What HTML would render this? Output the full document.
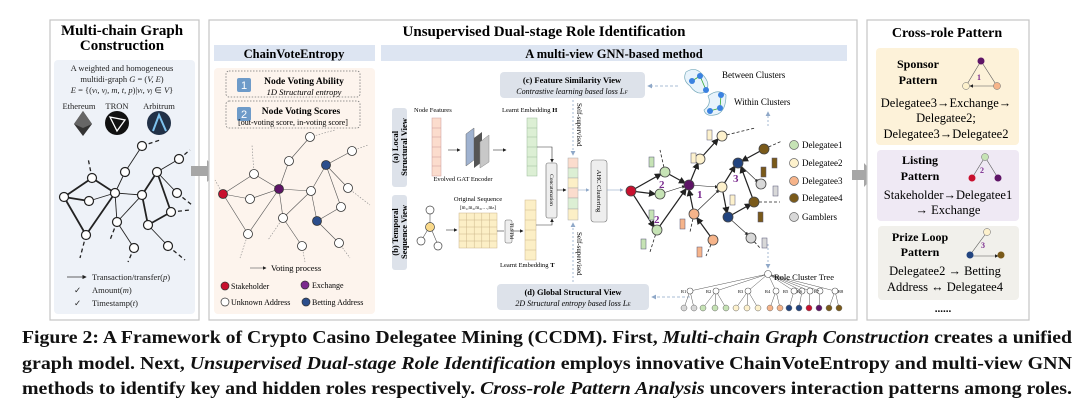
<!DOCTYPE html>
<html><head><meta charset="utf-8"><style>
html,body{margin:0;padding:0;background:#fff;}
svg{display:block;font-family:"Liberation Serif",serif;}
</style></head><body>
<svg width="1080" height="400" viewBox="0 0 1080 400" xmlns="http://www.w3.org/2000/svg">
<defs>
<marker id="ar" markerWidth="6" markerHeight="6" refX="5" refY="3" orient="auto"><path d="M0,0 L6,3 L0,6 z" fill="#222"/></marker>
<marker id="ag" markerWidth="6" markerHeight="6" refX="5" refY="3" orient="auto"><path d="M0,0 L6,3 L0,6 z" fill="#8fa8c8"/></marker>
</defs>
<rect width="1080" height="400" fill="#fff"/>

<!-- LEFT PANEL -->
<rect x="50" y="20" width="149" height="300" fill="#fff" stroke="#c4c4c4" stroke-width="1.2"/>
<text x="122" y="35" font-size="15" font-weight="bold" text-anchor="middle">Multi-chain Graph</text>
<text x="122" y="50" font-size="15" font-weight="bold" text-anchor="middle">Construction</text>
<rect x="54" y="60" width="141" height="254" rx="4" fill="#eef2f8"/>
<g font-size="8.5" text-anchor="middle" fill="#222">
<text x="122" y="71">A weighted and homogeneous</text>
<text x="122" y="82">multidi-graph <tspan font-style="italic">G</tspan> = (<tspan font-style="italic">V, E</tspan>)</text>
<text x="122" y="93"><tspan font-style="italic">E</tspan> = {(<tspan font-style="italic">v<tspan font-size="6">i</tspan>, v<tspan font-size="6">j</tspan>, m, t, p</tspan>)|<tspan font-style="italic">v<tspan font-size="6">i</tspan>, v<tspan font-size="6">j</tspan></tspan> ∈ <tspan font-style="italic">V</tspan>}</text>
<text x="79" y="109">Ethereum</text><text x="117" y="109">TRON</text><text x="159" y="109">Arbitrum</text>
</g>
<polygon points="83,111 92,124 83,136 74,124" fill="#333"/><polygon points="83,111 92,124 83,128 74,124" fill="#666"/>
<circle cx="117" cy="123" r="12" fill="#111"/><polygon points="110,117 125,120 117,131" fill="none" stroke="#fff" stroke-width="1.3"/>
<circle cx="159" cy="123" r="12" fill="#213147"/><path d="M153,131 L159,115 L166,131" fill="none" stroke="#7ec3ef" stroke-width="2"/>
<g stroke="#222" stroke-width="1.8" fill="none">
<line x1="64" y1="197" x2="92" y2="178"/><line x1="64" y1="197" x2="89" y2="201"/><line x1="64" y1="197" x2="86" y2="235"/>
<line x1="92" y1="178" x2="115" y2="193"/><line x1="89" y1="201" x2="115" y2="193" stroke-width="0.9"/><line x1="86" y1="235" x2="115" y2="193"/>
<line x1="115" y1="193" x2="125" y2="172" stroke-width="0.9"/><line x1="125" y1="172" x2="142" y2="146" stroke-width="0.9"/>
<line x1="115" y1="193" x2="142" y2="195" stroke-width="0.9"/><line x1="117" y1="222" x2="115" y2="193" stroke-width="0.9"/><line x1="117" y1="222" x2="142" y2="195" stroke-width="0.9"/>
<line x1="142" y1="195" x2="157" y2="172"/><line x1="157" y1="172" x2="171" y2="212"/><line x1="148" y1="225" x2="171" y2="212"/><line x1="142" y1="195" x2="148" y2="225"/>
<line x1="157" y1="172" x2="179" y2="159" stroke-width="0.9"/><line x1="157" y1="172" x2="177" y2="193" stroke-width="0.9"/>
<line x1="117" y1="222" x2="134" y2="248" stroke-width="0.9"/><line x1="148" y1="225" x2="168" y2="246" stroke-width="0.9"/>
</g>
<g stroke="#222" stroke-width="1.3" stroke-dasharray="4,3" fill="none">
<line x1="92" y1="178" x2="88" y2="158"/><line x1="86" y1="235" x2="80" y2="258"/><line x1="142" y1="146" x2="160" y2="140"/><line x1="179" y1="159" x2="190" y2="150"/><line x1="171" y1="212" x2="190" y2="210"/><line x1="177" y1="193" x2="192" y2="205"/><line x1="168" y1="246" x2="185" y2="260"/><line x1="134" y1="248" x2="128" y2="262"/><line x1="117" y1="222" x2="110" y2="240"/>
</g>
<g fill="#fff" stroke="#222" stroke-width="1.2">
<circle cx="64" cy="197" r="4.5"/><circle cx="89" cy="201" r="4.5"/><circle cx="92" cy="178" r="4.5"/><circle cx="115" cy="193" r="4.5"/><circle cx="125" cy="172" r="4.5"/><circle cx="142" cy="146" r="4.5"/><circle cx="157" cy="172" r="4.5"/><circle cx="179" cy="159" r="4.5"/><circle cx="142" cy="195" r="4.5"/><circle cx="117" cy="222" r="4.5"/><circle cx="148" cy="225" r="4.5"/><circle cx="171" cy="212" r="4.5"/><circle cx="177" cy="193" r="4.5"/><circle cx="86" cy="235" r="4.5"/><circle cx="134" cy="248" r="4.5"/><circle cx="168" cy="246" r="4.5"/>
</g>
<line x1="67" y1="277" x2="86" y2="277" stroke="#333" stroke-width="0.7" marker-end="url(#ar)"/>
<g font-size="8.5" fill="#222">
<text x="92" y="280">Transaction/transfer(<tspan font-style="italic">p</tspan>)</text>
<text x="74" y="293">✓</text><text x="92" y="293">Amount(<tspan font-style="italic">m</tspan>)</text>
<text x="74" y="306">✓</text><text x="92" y="306">Timestamp(<tspan font-style="italic">t</tspan>)</text>
</g>

<polygon points="191,166 207,166 207,160 218,171 207,182 207,176 191,176" fill="#a6a6a6"/>

<!-- MIDDLE PANEL -->
<rect x="209" y="20" width="648" height="300" fill="#fff" stroke="#c4c4c4" stroke-width="1.2"/>
<text x="544" y="36" font-size="15" font-weight="bold" text-anchor="middle">Unsupervised Dual-stage Role Identification</text>
<rect x="214" y="45" width="161" height="16" fill="#dde5f2"/>
<text x="294" y="58" font-size="12.5" font-weight="bold" text-anchor="middle">ChainVoteEntropy</text>
<rect x="381" y="45" width="466" height="16" fill="#dde5f2"/>
<text x="614" y="58" font-size="12.5" font-weight="bold" text-anchor="middle">A multi-view GNN-based method</text>

<rect x="214" y="68" width="161" height="246" rx="4" fill="#fdf4ed"/>
<rect x="226" y="71" width="134" height="26" rx="3" fill="none" stroke="#777" stroke-dasharray="1.5,1.5" stroke-width="0.8"/>
<rect x="226" y="101" width="134" height="27" rx="3" fill="none" stroke="#777" stroke-dasharray="1.5,1.5" stroke-width="0.8"/>
<rect x="237" y="78" width="14" height="14" rx="2" fill="#6e9bc9"/><text x="244" y="89" font-size="11" fill="#fff" text-anchor="middle" font-family="Liberation Sans,sans-serif">1</text>
<rect x="237" y="107" width="14" height="14" rx="2" fill="#6e9bc9"/><text x="244" y="118" font-size="11" fill="#fff" text-anchor="middle" font-family="Liberation Sans,sans-serif">2</text>
<text x="304" y="84" font-size="9.5" font-weight="bold" text-anchor="middle">Node Voting Ability</text>
<text x="304" y="95" font-size="8.5" font-style="italic" text-anchor="middle">1D Structural entropy</text>
<text x="301" y="114" font-size="9.5" font-weight="bold" text-anchor="middle">Node Voting Scores</text>
<text x="293" y="125" font-size="8" text-anchor="middle">[out-voting score, in-voting score]</text>
<g stroke="#555" stroke-width="0.6" fill="none">
<line x1="223" y1="194" x2="254" y2="174"/><line x1="223" y1="194" x2="250" y2="199"/><line x1="223" y1="194" x2="248" y2="234"/><line x1="254" y1="174" x2="279" y2="189"/><line x1="250" y1="199" x2="279" y2="189"/><line x1="248" y1="234" x2="279" y2="189"/><line x1="279" y1="189" x2="289" y2="161"/><line x1="289" y1="161" x2="310" y2="137"/><line x1="279" y1="189" x2="311" y2="191"/><line x1="279" y1="189" x2="283" y2="218"/><line x1="283" y1="218" x2="302" y2="246"/><line x1="283" y1="218" x2="311" y2="191"/><line x1="311" y1="191" x2="326" y2="165"/><line x1="326" y1="165" x2="352" y2="151"/><line x1="326" y1="165" x2="341" y2="207"/><line x1="311" y1="191" x2="317" y2="221"/><line x1="317" y1="221" x2="341" y2="207"/><line x1="317" y1="221" x2="339" y2="243"/><line x1="326" y1="165" x2="348" y2="188"/>
</g>
<g stroke="#888" stroke-width="0.6" stroke-dasharray="1.5,1.5" fill="none">
<line x1="310" y1="137" x2="335" y2="130"/><line x1="352" y1="151" x2="368" y2="145"/><line x1="254" y1="174" x2="252" y2="145"/><line x1="223" y1="194" x2="215" y2="180"/><line x1="248" y1="234" x2="240" y2="258"/><line x1="302" y1="246" x2="305" y2="262"/><line x1="339" y1="243" x2="350" y2="258"/><line x1="348" y1="188" x2="370" y2="205"/><line x1="283" y1="218" x2="268" y2="240"/>
</g>
<g stroke="#333" stroke-width="0.8">
<circle cx="223" cy="194" r="4.5" fill="#c8102e"/><circle cx="279" cy="189" r="4.5" fill="#5e1466"/><circle cx="326" cy="165" r="4.5" fill="#2c4e8c"/><circle cx="317" cy="221" r="4.5" fill="#2c4e8c"/>
<g fill="#fff"><circle cx="254" cy="174" r="4.5"/><circle cx="250" cy="199" r="4.5"/><circle cx="289" cy="161" r="4.5"/><circle cx="310" cy="137" r="4.5"/><circle cx="311" cy="191" r="4.5"/><circle cx="283" cy="218" r="4.5"/><circle cx="248" cy="234" r="4.5"/><circle cx="302" cy="246" r="4.5"/><circle cx="352" cy="151" r="4.5"/><circle cx="348" cy="188" r="4.5"/><circle cx="341" cy="207" r="4.5"/><circle cx="339" cy="243" r="4.5"/></g>
</g>
<line x1="250" y1="268" x2="266" y2="268" stroke="#555" stroke-width="0.6" marker-end="url(#ar)"/>
<text x="271" y="271" font-size="8.5">Voting process</text>
<g font-size="8" stroke="#333" stroke-width="0.7">
<circle cx="225" cy="286" r="4" fill="#c8102e"/><circle cx="305" cy="285" r="4" fill="#7b2a8e"/><circle cx="225" cy="302" r="4" fill="#fff"/><circle cx="306" cy="302" r="4" fill="#2c4e8c"/>
</g>
<g font-size="8">
<text x="231" y="289">Stakeholder</text><text x="312" y="288">Exchange</text><text x="231" y="305">Unknown Address</text><text x="312" y="305">Betting Address</text>
</g>

<rect x="392" y="108" width="15" height="79" rx="3" fill="#dde2ea"/>
<text transform="translate(403,147) rotate(-90)" font-size="8.5" font-weight="bold" text-anchor="middle"><tspan x="0" dy="-5">(a) Local</tspan><tspan x="0" dy="9">Structural View</tspan></text>
<rect x="392" y="195" width="15" height="75" rx="3" fill="#dde2ea"/>
<text transform="translate(403,232) rotate(-90)" font-size="8.5" font-weight="bold" text-anchor="middle"><tspan x="0" dy="-5">(b) Temporal</tspan><tspan x="0" dy="9">Sequence View</tspan></text>
<text x="414" y="112" font-size="6.5">Node Features</text>
<g stroke="#c99" stroke-width="0.5" fill="#fbdccd"><rect x="432" y="118" width="9" height="58"/><line x1="432" y1="128" x2="441" y2="128"/><line x1="432" y1="137" x2="441" y2="137"/><line x1="432" y1="147" x2="441" y2="147"/><line x1="432" y1="157" x2="441" y2="157"/><line x1="432" y1="166" x2="441" y2="166"/></g>
<line x1="448" y1="150" x2="460" y2="150" stroke="#333" stroke-width="0.6" marker-end="url(#ar)"/>
<polygon points="466,134 474,128 474,160 466,166" fill="#9fb2d0" stroke="#666" stroke-width="0.5"/>
<polygon points="474,138 482,132 482,162 474,168" fill="#555"/>
<polygon points="480,142 489,135 489,162 480,168" fill="#c8c8c8" stroke="#888" stroke-width="0.5"/>
<text x="463" y="181" font-size="6.5" text-anchor="middle">Evolved GAT Encoder</text>
<line x1="493" y1="150" x2="506" y2="150" stroke="#333" stroke-width="0.6" marker-end="url(#ar)"/>
<text x="502" y="112" font-size="6.5">Learnt Embedding <tspan font-weight="bold">H</tspan></text>
<g stroke="#9b9" stroke-width="0.5" fill="#dcefd4"><rect x="527" y="118" width="10" height="58"/><line x1="527" y1="128" x2="537" y2="128"/><line x1="527" y1="137" x2="537" y2="137"/><line x1="527" y1="147" x2="537" y2="147"/><line x1="527" y1="157" x2="537" y2="157"/><line x1="527" y1="166" x2="537" y2="166"/></g>
<polyline points="537,147 552,147 552,162" fill="none" stroke="#333" stroke-width="0.6" marker-end="url(#ar)"/>
<g stroke="#555" stroke-width="0.6"><line x1="430" y1="226" x2="430" y2="210"/><line x1="430" y1="226" x2="421" y2="241"/><line x1="430" y1="226" x2="438" y2="245"/></g>
<circle cx="430" cy="210" r="4" fill="#fff" stroke="#444" stroke-width="0.7"/><circle cx="430" cy="227" r="4.5" fill="#f9d98a" stroke="#444" stroke-width="0.7"/><circle cx="421" cy="241" r="4" fill="#fff" stroke="#444" stroke-width="0.7"/><circle cx="438" cy="246" r="4" fill="#fff" stroke="#444" stroke-width="0.7"/>
<line x1="446" y1="230" x2="457" y2="230" stroke="#333" stroke-width="0.6" marker-end="url(#ar)"/>
<text x="478" y="201" font-size="6.5" text-anchor="middle">Original Sequence</text>
<text x="478" y="209" font-size="5" text-anchor="middle">[m₁,m₂,m₃,…,mₙ]</text>
<g stroke="#cbb68a" stroke-width="0.5" fill="#fcefc6"><rect x="459" y="213" width="38" height="35"/>
<line x1="466.6" y1="213" x2="466.6" y2="248"/><line x1="474.2" y1="213" x2="474.2" y2="248"/><line x1="481.8" y1="213" x2="481.8" y2="248"/><line x1="489.4" y1="213" x2="489.4" y2="248"/>
<line x1="459" y1="220" x2="497" y2="220"/><line x1="459" y1="227" x2="497" y2="227"/><line x1="459" y1="234" x2="497" y2="234"/><line x1="459" y1="241" x2="497" y2="241"/></g>
<line x1="497" y1="231" x2="504" y2="231" stroke="#333" stroke-width="0.6"/>
<rect x="505" y="220" width="7" height="23" rx="1.5" fill="#eee" stroke="#666" stroke-width="0.5"/>
<text transform="translate(510,231) rotate(90)" font-size="5" text-anchor="middle">TLSTM</text>
<line x1="512" y1="231" x2="523" y2="231" stroke="#333" stroke-width="0.6" marker-end="url(#ar)"/>
<g stroke="#cbb68a" stroke-width="0.5" fill="#fcefc6"><rect x="525" y="200" width="11" height="60"/><line x1="525" y1="210" x2="536" y2="210"/><line x1="525" y1="220" x2="536" y2="220"/><line x1="525" y1="230" x2="536" y2="230"/><line x1="525" y1="240" x2="536" y2="240"/><line x1="525" y1="250" x2="536" y2="250"/></g>
<polyline points="536,225 552,225 552,219" fill="none" stroke="#333" stroke-width="0.6" marker-end="url(#ar)"/>
<text x="500" y="267" font-size="6.5">Learnt Embedding <tspan font-weight="bold">T</tspan></text>
<rect x="546" y="163" width="11" height="55" rx="2" fill="#eee" stroke="#666" stroke-width="0.6"/>
<text transform="translate(550,190) rotate(90)" font-size="5.5" text-anchor="middle">Concatenation</text>
<line x1="557" y1="190" x2="566" y2="190" stroke="#333" stroke-width="0.6" marker-end="url(#ar)"/>
<g stroke="#aaa" stroke-width="0.5"><rect x="568" y="158" width="10" height="10" fill="#fbdccd"/><rect x="568" y="168" width="10" height="10" fill="#dcefd4"/><rect x="568" y="178" width="10" height="10" fill="#fcefc6"/><rect x="568" y="188" width="10" height="10" fill="#fbdccd"/><rect x="568" y="198" width="10" height="11" fill="#dcefd4"/><rect x="568" y="209" width="10" height="11" fill="#fcefc6"/></g>
<line x1="578" y1="190" x2="589" y2="190" stroke="#8fa8c8" stroke-width="0.6" marker-end="url(#ag)"/>
<rect x="591" y="160" width="16" height="62" rx="3" fill="#eee" stroke="#777" stroke-width="0.6"/>
<text transform="translate(597,191) rotate(90)" font-size="6.5" text-anchor="middle">AHC Clustering</text>
<line x1="607" y1="190" x2="623" y2="190" stroke="#8fa8c8" stroke-width="0.6" marker-end="url(#ag)"/>
<line x1="573" y1="100" x2="573" y2="155" stroke="#8fa8c8" stroke-width="0.8" stroke-dasharray="2,2" marker-end="url(#ag)"/>
<line x1="573" y1="282" x2="573" y2="223" stroke="#8fa8c8" stroke-width="0.8" stroke-dasharray="2,2" marker-end="url(#ag)"/>
<text transform="translate(577,103) rotate(90)" font-size="7">Self-supervised</text>
<text transform="translate(577,232) rotate(90)" font-size="7">Self-supervised</text>
<rect x="500" y="72" width="145" height="26" rx="4" fill="#dde2ea"/>
<text x="572" y="83" font-size="8.5" font-weight="bold" text-anchor="middle">(c) Feature Similarity View</text>
<text x="572" y="94" font-size="8" font-style="italic" text-anchor="middle">Contrastive learning based loss L<tspan font-size="5.5">F</tspan></text>
<rect x="497" y="284" width="152" height="26" rx="4" fill="#dde2ea"/>
<text x="573" y="295" font-size="8.5" font-weight="bold" text-anchor="middle">(d) Global Structural View</text>
<text x="573" y="306" font-size="8" font-style="italic" text-anchor="middle">2D Structural entropy based loss L<tspan font-size="5.5">E</tspan></text>
<line x1="678" y1="86" x2="648" y2="86" stroke="#8fa8c8" stroke-width="0.8" stroke-dasharray="3,2" marker-end="url(#ag)"/>
<line x1="690" y1="297" x2="652" y2="297" stroke="#8fa8c8" stroke-width="0.8" stroke-dasharray="3,2" marker-end="url(#ag)"/>
<line x1="768" y1="126" x2="768" y2="112" stroke="#8fa8c8" stroke-width="0.8" stroke-dasharray="2,2" marker-end="url(#ag)"/>
<line x1="768" y1="244" x2="768" y2="268" stroke="#8fa8c8" stroke-width="0.8" stroke-dasharray="2,2" marker-end="url(#ag)"/>
<path d="M686,72 Q695,66 702,74 Q712,84 705,92 Q697,96 690,86 Q682,80 686,72z" fill="#e8f3fb" stroke="#7ab" stroke-width="0.7"/>
<path d="M708,96 Q718,88 726,95 Q726,110 718,114 Q706,118 704,110 Q712,104 708,96z" fill="#e8f3fb" stroke="#7ab" stroke-width="0.7"/>
<g stroke="#3a3" stroke-width="0.8"><line x1="692" y1="81" x2="700" y2="76"/><line x1="700" y1="76" x2="706" y2="90"/><line x1="710" y1="111" x2="720" y2="108"/><line x1="720" y1="108" x2="721" y2="95"/></g>
<g fill="#3b82e0"><circle cx="692" cy="81" r="3"/><circle cx="700" cy="76" r="3"/><circle cx="706" cy="90" r="3"/><circle cx="721" cy="95" r="3"/><circle cx="720" cy="108" r="3"/><circle cx="710" cy="111" r="3"/></g>
<text x="722" y="78" font-size="9">Between Clusters</text>
<text x="734" y="105" font-size="9">Within Clusters</text>
<g stroke="#222" stroke-width="1.2" fill="none" marker-end="url(#ar)">
<line x1="631" y1="191" x2="661" y2="174"/><line x1="631" y1="191" x2="655" y2="194"/><line x1="631" y1="191" x2="654" y2="227"/>
<line x1="665" y1="172" x2="685" y2="183"/><line x1="660" y1="194" x2="685" y2="186" stroke-width="0.6"/><line x1="657" y1="230" x2="686" y2="189"/>
<line x1="689" y1="185" x2="698" y2="163"/><line x1="700" y1="159" x2="718" y2="139"/>
<line x1="694" y1="214" x2="689" y2="190" /><line x1="713" y1="240" x2="697" y2="218"/><line x1="694" y1="214" x2="719" y2="190" stroke-width="0.6"/>
<line x1="689" y1="185" x2="718" y2="187" stroke-width="0.6"/><line x1="722" y1="187" x2="735" y2="166"/><line x1="722" y1="187" x2="727" y2="213"/>
<line x1="728" y1="217" x2="751" y2="204"/><line x1="754" y1="202" x2="741" y2="167"/><line x1="764" y1="149" x2="742" y2="161"/>
<line x1="738" y1="163" x2="758" y2="182" stroke-width="0.6"/><line x1="728" y1="217" x2="748" y2="235" stroke-width="0.6"/>
</g>
<g stroke="#222" stroke-width="0.8" stroke-dasharray="3,2"><line x1="722" y1="136" x2="755" y2="128"/><line x1="764" y1="149" x2="782" y2="141"/><line x1="754" y1="202" x2="780" y2="202"/><line x1="751" y1="238" x2="760" y2="248"/><line x1="657" y1="230" x2="650" y2="252"/><line x1="694" y1="214" x2="690" y2="232"/><line x1="713" y1="240" x2="706" y2="256"/><line x1="665" y1="172" x2="660" y2="150"/></g>
<g stroke="#444" stroke-width="0.8">
<circle cx="631" cy="191" r="5" fill="#c8102e"/><circle cx="665" cy="172" r="5" fill="#c6e3b5"/><circle cx="660" cy="194" r="5" fill="#c6e3b5"/><circle cx="657" cy="230" r="5" fill="#c6e3b5"/>
<circle cx="689" cy="185" r="5" fill="#5e1466"/><circle cx="700" cy="159" r="5" fill="#fdf1cc"/><circle cx="722" cy="136" r="5" fill="#fdf1cc"/><circle cx="722" cy="187" r="5" fill="#fdf1cc"/>
<circle cx="694" cy="214" r="5" fill="#f6b48a"/><circle cx="713" cy="240" r="5" fill="#f6b48a"/><circle cx="738" cy="163" r="5" fill="#22447f"/><circle cx="728" cy="217" r="5" fill="#22447f"/>
<circle cx="764" cy="149" r="5" fill="#7a5a1a"/><circle cx="754" cy="202" r="5" fill="#7a5a1a"/><circle cx="761" cy="184" r="5" fill="#d8d8d8"/><circle cx="751" cy="238" r="5" fill="#d8d8d8"/>
</g>
<g font-size="11" font-weight="bold" fill="#7a2a8e"><text x="659" y="188">2</text><text x="654" y="223">2</text><text x="697" y="198">1</text><text x="733" y="182">3</text></g>
<g stroke="#557" stroke-width="0.5"><rect x="649" y="157" width="5" height="10" fill="#c6e3b5"/><rect x="691" y="153" width="5" height="10" fill="#fdf1cc"/><rect x="707" y="130" width="5" height="10" fill="#fdf1cc"/><rect x="649" y="210" width="5" height="10" fill="#c6e3b5"/><rect x="641" y="239" width="5" height="10" fill="#c6e3b5"/><rect x="680" y="219" width="5" height="10" fill="#f6b48a"/><rect x="697" y="247" width="5" height="10" fill="#f6b48a"/><rect x="730" y="195" width="5" height="10" fill="#fdf1cc"/><rect x="772" y="158" width="5" height="10" fill="#7a5a1a"/><rect x="761" y="167" width="5" height="10" fill="#7a5a1a"/><rect x="758" y="212" width="5" height="10" fill="#7a5a1a"/><rect x="773" y="186" width="5" height="10" fill="#d8d8d8"/><rect x="762" y="238" width="5" height="10" fill="#d8d8d8"/></g>
<g stroke="#666" stroke-width="0.7"><circle cx="794" cy="145" r="4.5" fill="#c6e3b5"/><circle cx="794" cy="163" r="4.5" fill="#fdf1cc"/><circle cx="794" cy="181" r="4.5" fill="#f6b48a"/><circle cx="794" cy="198" r="4.5" fill="#7a5a1a"/><circle cx="794" cy="217" r="4.5" fill="#d8d8d8"/></g>
<g font-size="9"><text x="802" y="148">Delegatee1</text><text x="802" y="166">Delegatee2</text><text x="802" y="184">Delegatee3</text><text x="802" y="201">Delegatee4</text><text x="802" y="220">Gamblers</text></g>
<g stroke="#555" stroke-width="0.5">
<line x1="768" y1="274" x2="690" y2="291"/><line x1="768" y1="274" x2="716" y2="291"/><line x1="768" y1="274" x2="748" y2="291"/><line x1="768" y1="274" x2="776" y2="291"/><line x1="768" y1="274" x2="794" y2="291"/><line x1="768" y1="274" x2="802" y2="291"/><line x1="768" y1="274" x2="810" y2="291"/><line x1="768" y1="274" x2="820" y2="291"/><line x1="768" y1="274" x2="835" y2="291"/>
<line x1="690" y1="291" x2="684" y2="308"/><line x1="690" y1="291" x2="694" y2="308"/><line x1="716" y1="291" x2="703" y2="308"/><line x1="716" y1="291" x2="715" y2="308"/><line x1="716" y1="291" x2="726" y2="308"/><line x1="748" y1="291" x2="736" y2="308"/><line x1="748" y1="291" x2="747" y2="308"/><line x1="748" y1="291" x2="758" y2="308"/><line x1="776" y1="291" x2="770" y2="308"/><line x1="776" y1="291" x2="780" y2="308"/><line x1="794" y1="291" x2="789" y2="308"/><line x1="802" y1="291" x2="799" y2="308"/><line x1="810" y1="291" x2="809" y2="308"/><line x1="820" y1="291" x2="819" y2="308"/><line x1="835" y1="291" x2="829" y2="308"/><line x1="835" y1="291" x2="839" y2="308"/>
</g>
<g fill="#fff" stroke="#555" stroke-width="0.6"><circle cx="768" cy="274" r="3.5"/><circle cx="690" cy="291" r="3"/><circle cx="716" cy="291" r="3"/><circle cx="748" cy="291" r="3"/><circle cx="776" cy="291" r="3"/><circle cx="794" cy="291" r="3"/><circle cx="802" cy="291" r="3"/><circle cx="810" cy="291" r="3"/><circle cx="820" cy="291" r="3"/><circle cx="835" cy="291" r="3"/></g>
<g stroke="#666" stroke-width="0.5"><circle cx="684" cy="308" r="3" fill="#d8d8d8"/><circle cx="694" cy="308" r="3" fill="#d8d8d8"/><circle cx="703" cy="308" r="3" fill="#c6e3b5"/><circle cx="715" cy="308" r="3" fill="#c6e3b5"/><circle cx="726" cy="308" r="3" fill="#c6e3b5"/><circle cx="736" cy="308" r="3" fill="#fdf1cc"/><circle cx="747" cy="308" r="3" fill="#fdf1cc"/><circle cx="758" cy="308" r="3" fill="#fdf1cc"/><circle cx="770" cy="308" r="3" fill="#f6b48a"/><circle cx="780" cy="308" r="3" fill="#f6b48a"/><circle cx="789" cy="308" r="3" fill="#22447f"/><circle cx="799" cy="308" r="3" fill="#22447f"/><circle cx="809" cy="308" r="3" fill="#c8102e"/><circle cx="819" cy="308" r="3" fill="#5e1466"/><circle cx="829" cy="308" r="3" fill="#7a5a1a"/><circle cx="839" cy="308" r="3" fill="#7a5a1a"/></g>
<text x="774" y="280" font-size="8.5">Role Cluster Tree</text>
<g font-size="4.5"><text x="681" y="293">R1</text><text x="706" y="293">R2</text><text x="738" y="293">R3</text><text x="765" y="293">R4</text><text x="783" y="293">R5</text><text x="797" y="293">R6</text><text x="814" y="293">R7</text><text x="838" y="293">R8</text></g>

<polygon points="852,170 864,170 864,163 875,175 864,187 864,180 852,180" fill="#a6a6a6"/>

<!-- RIGHT PANEL -->
<rect x="867" y="20" width="162" height="300" fill="#fff" stroke="#c4c4c4" stroke-width="1.2"/>
<text x="947" y="37" font-size="14" font-weight="bold" text-anchor="middle">Cross-role Pattern</text>
<rect x="876" y="48" width="143" height="97" rx="4" fill="#fdf2d9"/>
<text x="918" y="68" font-size="12" font-weight="bold" text-anchor="middle">Sponsor</text>
<text x="918" y="84" font-size="12" font-weight="bold" text-anchor="middle">Pattern</text>
<g stroke="#555" stroke-width="0.6"><line x1="981" y1="61" x2="966" y2="86"/><line x1="981" y1="61" x2="997" y2="86"/><line x1="997" y1="86" x2="970" y2="86" marker-end="url(#ar)"/></g>
<circle cx="981" cy="61" r="3.5" fill="#5e1466"/><circle cx="966" cy="86" r="3.5" fill="#fdf1cc" stroke="#666" stroke-width="0.5"/><circle cx="997" cy="86" r="3.5" fill="#f6b48a" stroke="#666" stroke-width="0.5"/>
<text x="977" y="80" font-size="8" font-weight="bold" fill="#7a2a8e">1</text>
<g font-size="12.5" text-anchor="middle"><text x="946" y="107">Delegatee3→Exchange→</text><text x="946" y="122">Delegatee2;</text><text x="946" y="138">Delegatee3→Delegatee2</text></g>
<rect x="877" y="150" width="142" height="71" rx="4" fill="#efe9f4"/>
<text x="920" y="164" font-size="12" font-weight="bold" text-anchor="middle">Listing</text>
<text x="920" y="180" font-size="12" font-weight="bold" text-anchor="middle">Pattern</text>
<g stroke="#555" stroke-width="0.6"><line x1="985" y1="157" x2="972" y2="178"/><line x1="985" y1="157" x2="998" y2="178"/></g>
<circle cx="985" cy="157" r="3.5" fill="#c6e3b5" stroke="#666" stroke-width="0.5"/><circle cx="972" cy="178" r="3.5" fill="#c8102e"/><circle cx="998" cy="178" r="3.5" fill="#5e1466"/>
<text x="980" y="173" font-size="8" font-weight="bold" fill="#7a2a8e">2</text>
<g font-size="12.5" text-anchor="middle"><text x="948" y="199">Stakeholder→Delegatee1</text><text x="948" y="214">→ Exchange</text></g>
<rect x="878" y="226" width="141" height="74" rx="4" fill="#f1f0eb"/>
<text x="920" y="241" font-size="12" font-weight="bold" text-anchor="middle">Prize Loop</text>
<text x="920" y="256" font-size="12" font-weight="bold" text-anchor="middle">Pattern</text>
<g stroke="#555" stroke-width="0.6"><line x1="987" y1="232" x2="970" y2="255"/><line x1="970" y1="256" x2="998" y2="256" marker-end="url(#ar)"/></g>
<circle cx="987" cy="232" r="3.5" fill="#fdf1cc" stroke="#666" stroke-width="0.5"/><circle cx="970" cy="255" r="3.5" fill="#22447f"/><circle cx="1001" cy="255" r="3.5" fill="#7a5a1a"/>
<text x="981" y="248" font-size="8" font-weight="bold" fill="#7a2a8e">3</text>
<g font-size="12.5" text-anchor="middle"><text x="945" y="275">Delegatee2 → Betting</text><text x="945" y="291">Address ↔ Delegatee4</text></g>
<text x="943" y="312" font-size="11" font-weight="bold" text-anchor="middle">......</text>

<!-- CAPTION -->
<g font-size="18" font-weight="bold" fill="#111">
<text x="22" y="343" textLength="1050" lengthAdjust="spacingAndGlyphs">Figure 2: A Framework of Crypto Casino Delegatee Mining (CCDM). First, <tspan font-style="italic">Multi-chain Graph Construction</tspan> creates a unified</text>
<text x="22" y="369" textLength="1050" lengthAdjust="spacingAndGlyphs">graph model. Next, <tspan font-style="italic">Unsupervised Dual-stage Role Identification</tspan> employs innovative ChainVoteEntropy and multi-view GNN</text>
<text x="22" y="394" textLength="1050" lengthAdjust="spacingAndGlyphs">methods to identify key and hidden roles respectively. <tspan font-style="italic">Cross-role Pattern Analysis</tspan> uncovers interaction patterns among roles.</text>
</g>
</svg>
</body></html>
